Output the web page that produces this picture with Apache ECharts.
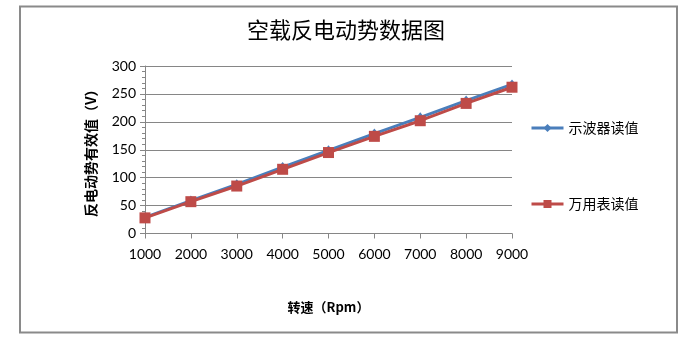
<!DOCTYPE html>
<html>
<head>
<meta charset="utf-8">
<script src="https://cdn.jsdelivr.net/npm/echarts@6/dist/echarts.min.js"></script>
<style>
  html, body { margin: 0; padding: 0; background: #fff; }
  #chart { width: 692px; height: 344px; }
</style>
</head>
<body>
<div id="chart"></div>
<script>
// Rotational speed (rpm) categories
const speeds = ['1000', '2000', '3000', '4000', '5000', '6000', '7000', '8000', '9000'];
// No-load back-EMF RMS readings (V)
const scopeReadings = [29, 59, 88, 119, 149, 179, 208, 238, 267];
const meterReadings = [28, 57, 85, 115, 145, 174, 202, 233, 262];
const seriesNames = ['示波器读值', '万用表读值'];

const numFont = 'Lato, "Noto Sans CJK SC", sans-serif';
const cjkFont = '"Noto Sans CJK SC", sans-serif';
const gray = '#868686';

const chart = echarts.init(document.getElementById('chart'));
chart.setOption({
  animation: false,
  backgroundColor: '#fff',
  graphic: [{
    type: 'rect',
    shape: { x: 20, y: 6.5, width: 657, height: 326 },
    style: { fill: 'none', stroke: '#8a8a8a', lineWidth: 2 },
    silent: true
  }],
  title: {
    text: '空载反电动势数据图',
    left: 'center',
    top: 14,
    textStyle: { fontFamily: cjkFont, fontSize: 22, fontWeight: 'normal', color: '#000' }
  },
  legend: {
    orient: 'vertical',
    left: 525,
    top: 116,
    itemGap: 62,
    itemWidth: 32,
    itemHeight: 10,
    lineStyle: { width: 3 },
    textStyle: { fontFamily: cjkFont, fontSize: 14, color: '#000' },
    data: seriesNames
  },
  grid: { left: 145, right: 180, top: 66, bottom: 110.5 },
  xAxis: {
    type: 'category',
    data: speeds,
    boundaryGap: false,
    name: '转速（Rpm）',
    nameLocation: 'middle',
    nameGap: 67,
    nameTextStyle: { fontFamily: cjkFont, fontSize: 13, fontWeight: 'bold', color: '#000' },
    axisLine: { lineStyle: { color: gray } },
    axisTick: { show: true, length: 5, lineStyle: { color: gray } },
    axisLabel: { fontFamily: numFont, fontSize: 14, color: '#000', margin: 14 },
    splitLine: { show: false }
  },
  yAxis: {
    type: 'value',
    min: 0,
    max: 300,
    interval: 50,
    name: '反电动势有效值（V）',
    nameLocation: 'middle',
    nameGap: 47,
    nameRotate: 90,
    nameTextStyle: { fontFamily: cjkFont, fontSize: 14, fontWeight: 'bold', color: '#000' },
    axisLine: { show: true, lineStyle: { color: gray } },
    axisTick: { show: true, length: 5, lineStyle: { color: gray } },
    minorTick: { show: true, splitNumber: 5, length: 3, lineStyle: { color: gray } },
    axisLabel: { fontFamily: numFont, fontSize: 14, color: '#000', margin: 9 },
    splitLine: { show: true, lineStyle: { color: gray, width: 1 } }
  },
  series: [
    {
      name: seriesNames[0],
      type: 'line',
      data: scopeReadings,
      symbol: 'diamond',
      symbolSize: [8, 10],
      itemStyle: { color: '#4a7ebb' },
      lineStyle: { color: '#4a7ebb', width: 3 },
      z: 2
    },
    {
      name: seriesNames[1],
      type: 'line',
      data: meterReadings,
      symbol: 'rect',
      symbolSize: 11,
      itemStyle: { color: '#be4b48' },
      lineStyle: { color: '#be4b48', width: 3 },
      z: 3
    }
  ]
});
</script>
</body>
</html>
